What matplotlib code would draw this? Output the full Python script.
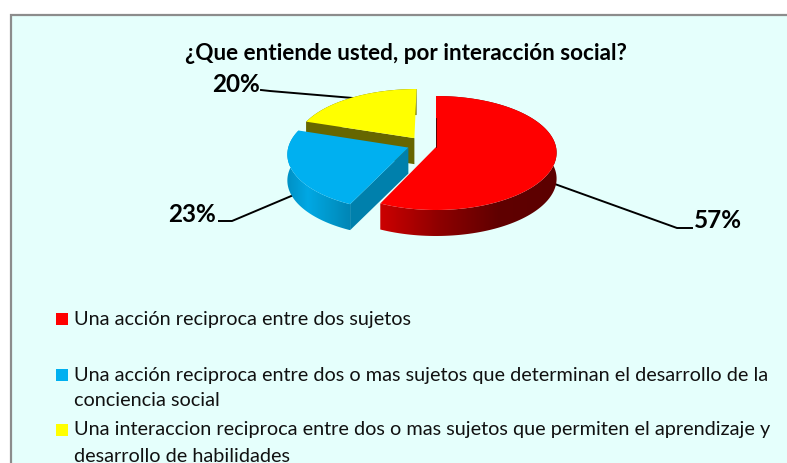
import numpy as np
import matplotlib
matplotlib.use("Agg")
import matplotlib.pyplot as plt
from matplotlib.colors import LinearSegmentedColormap
from matplotlib.patches import Polygon, Rectangle

plt.rcParams['font.family'] = ['Lato', 'DejaVu Sans']

title = "¿Que entiende usted, por interacción social?"
shares = [57, 23, 20]
pct_labels = ["57%", "23%", "20%"]
legend_lines = [
    ["Una acción reciproca entre dos sujetos"],
    ["Una acción reciproca entre dos o mas sujetos que determinan el desarrollo de la",
     "conciencia social"],
    ["Una interaccion reciproca entre dos o mas sujetos que permiten el aprendizaje y",
     "desarrollo de habilidades"],
]
top_colors = ["#FF0000", "#00B0F0", "#FFFF00"]
rim_stops = [
    ["#CC0000", "#8E0000", "#600000", "#5C0000"],
    ["#0090C4", "#00A8E4", "#0098CC", "#0086B6"],
    ["#666600", "#666600", "#666600", "#666600"],
]
face_colors = [None, "#0080AC", "#666600"]

# layout of the tilted pie, in figure pixels
cx, cy = 436, 147
rx, ry = 120, 57
depth = 26
offsets = [(0, 0), (-0.23, -0.01), (-0.183, 0.158)]


def project(u, v):
    # unit disc -> screen, front of the pie a bit larger than the back
    u = np.asarray(u)
    v = np.asarray(v)
    return cx + rx * u * (1 - 0.1 * v), cy - ry * v + 6 * v ** 2


def slice_points(start, end, off, n=120):
    t = np.radians(np.linspace(start, end, n))
    return project(np.cos(t) + off[0], np.sin(t) + off[1])


fig = plt.figure(figsize=(7.87, 4.63), dpi=100)
ax = fig.add_axes([0, 0, 1, 1])

# chart area, runs off the right and bottom of the crop
ax.add_patch(Rectangle((11, 15), 800, 480, fc="#E5FFFC", ec="#8C8C8C", lw=1.6))

# leader lines go under the pie
ax.plot([261, 270, 353], [90, 91, 98], color="black", lw=1.4)
ax.plot([219, 232, 296], [221, 221, 194], color="black", lw=1.4)
ax.plot([552, 677, 692], [183, 228, 228], color="black", lw=1.4)

ends = 90 - 360 * np.cumsum(shares) / sum(shares)
starts = np.concatenate(([90], ends[:-1]))

# back to front: yellow, blue, red
z = 2
for i in [2, 1, 0]:
    off = offsets[i]
    x, y = slice_points(starts[i], ends[i], off)
    ax0, ay0 = project(off[0], off[1])

    rim = np.column_stack([np.r_[x, x[::-1]], np.r_[y, y[::-1] + depth]])
    rim_patch = Polygon(rim, closed=True, fc="none", ec="none", zorder=z)
    ax.add_patch(rim_patch)
    cmap = LinearSegmentedColormap.from_list("rim%d" % i, rim_stops[i])
    grad = np.linspace(0, 1, 256).reshape(1, -1)
    im = ax.imshow(grad, cmap=cmap, aspect="auto", zorder=z,
                   extent=[x.min(), x.max(), y.max() + depth, y.min()])
    im.set_clip_path(rim_patch)

    # cut face that looks at the viewer, always on the clockwise-first edge
    if face_colors[i]:
        fx, fy = x[0], y[0]
        face = [(ax0, ay0), (fx, fy), (fx, fy + depth), (ax0, ay0 + depth)]
        ax.add_patch(Polygon(face, closed=True, fc=face_colors[i], ec="none", zorder=z + 1))

    top = np.column_stack([np.r_[ax0, x], np.r_[ay0, y]])
    ax.add_patch(Polygon(top, closed=True, fc=top_colors[i], ec="none", zorder=z + 2))
    z += 3

# dark hairline on the back edge of the red slice
ax.plot([436, 436], [118, 147], color="#400000", lw=0.6, zorder=z)

ax.text(405.5, 53, title, fontsize=16.2, fontweight="bold", ha="center", va="center", color="black", zorder=z)
ax.text(718, 221, pct_labels[0], fontsize=17.5, fontweight="bold", ha="center", va="center", zorder=z)
ax.text(192, 214, pct_labels[1], fontsize=17.5, fontweight="bold", ha="center", va="center", zorder=z)
ax.text(236, 84, pct_labels[2], fontsize=17.5, fontweight="bold", ha="center", va="center", zorder=z)

# legend keys and wrapped entries
key_y = [313, 369, 424]
line_y = [[320], [375, 400], [430, 456]]
for i in range(3):
    ax.add_patch(Rectangle((56, key_y[i]), 12, 12, fc=top_colors[i], ec="none"))
    for line, y in zip(legend_lines[i], line_y[i]):
        ax.text(74, y, line, fontsize=14.3, ha="left", va="center", color="#111111")

ax.set_xlim(0, 787)
ax.set_ylim(463, 0)
ax.axis("off")
fig.savefig("out.png", dpi=100, facecolor="white")
